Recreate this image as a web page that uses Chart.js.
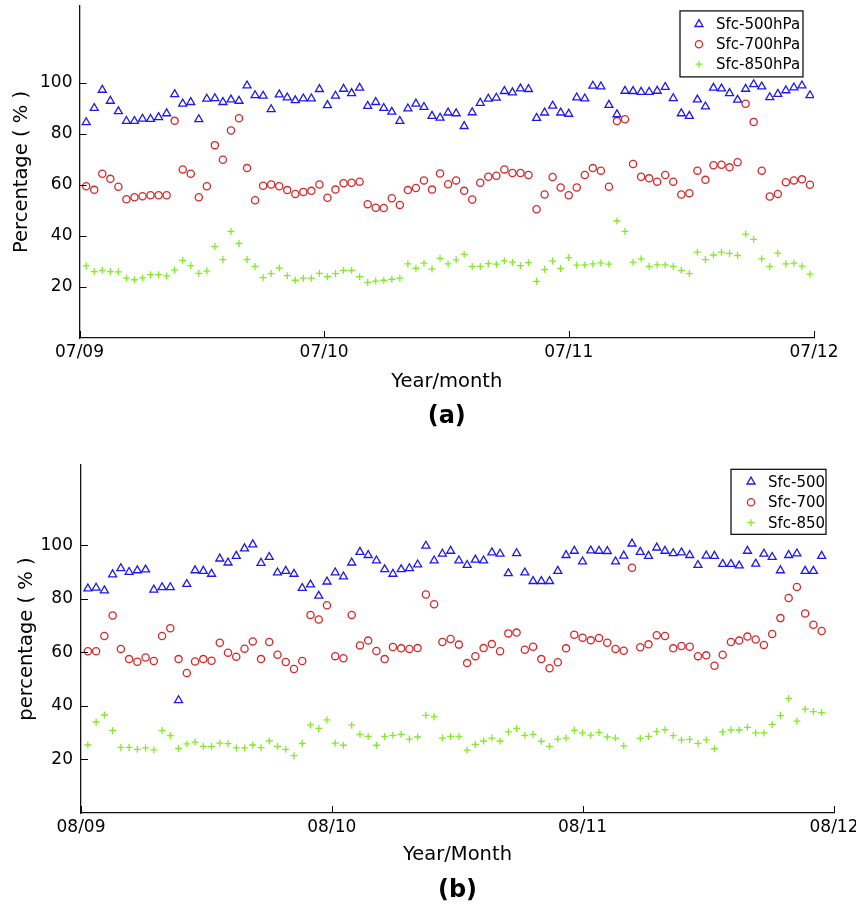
<!DOCTYPE html>
<html>
<head>
<meta charset="utf-8">
<script src="https://cdn.jsdelivr.net/npm/chart.js@4.4.0/dist/chart.umd.min.js"></script>
<style>
  body { margin: 0; background: #fff; }
  .panel { position: absolute; left: 0; width: 856px; }
  #panelA { top: 0; height: 440px; }
  #panelB { top: 440px; height: 473px; }
</style>
</head>
<body>
<div class="panel" id="panelA"><canvas id="chartA" width="856" height="440"></canvas></div>
<div class="panel" id="panelB"><canvas id="chartB" width="856" height="473"></canvas></div>
<script>
// x axis is in days since the first month shown
const xTickDays = [0, 365, 730, 1096];
const xTicksA = ['07/09', '07/10', '07/11', '07/12'];
const xTicksB = ['08/09', '08/10', '08/11', '08/12'];
const yTicks = [20, 40, 60, 80, 100];
// samples every 12 days
const sampleStartDay = 10;
const sampleStepDays = 12;

const namesA = ['Sfc-500hPa', 'Sfc-700hPa', 'Sfc-850hPa'];
const namesB = ['Sfc-500', 'Sfc-700', 'Sfc-850'];

// panel (a)
const sfc500A = [84.4, 90.0, 97.1, 92.8, 88.7, 84.9, 84.9, 85.8, 85.7, 86.4, 87.9, 95.4, 91.7, 92.3, 85.6, 93.6,
  93.8, 92.3, 93.3, 92.8, 98.8, 95.0, 94.8, 89.5, 95.3, 94.1, 93.0, 93.7, 93.7, 97.4, 91.1,
  94.8, 97.5, 95.8, 97.9, 90.8, 92.3, 90.0, 88.5, 84.9, 89.8, 91.7, 90.4, 86.9, 86.2, 88.2,
  87.9, 82.9, 88.3, 92.0, 93.6, 94.0, 96.6, 96.1, 97.6, 97.4, 86.1, 88.2, 90.9, 88.2, 87.7,
  94.1, 93.7, 98.7, 98.4, 91.2, 87.5, 96.7, 96.6, 96.3, 96.3, 96.7, 98.2, 93.8, 87.9, 86.9,
  93.3, 90.6, 97.9, 97.6, 95.8, 93.2, 97.5, 99.3, 98.4, 94.2, 95.5, 96.9, 98.0, 98.8, 95.0];
const sfc700A = [59.4, 58.0, 64.3, 62.3, 59.2, 54.3, 55.1, 55.5, 55.9, 55.9, 55.9, 85.0, 66.0, 64.3, 55.1, 59.4,
  75.5, 69.8, 81.2, 86.0, 66.5, 53.9, 59.6, 60.1, 59.4, 57.9, 56.4, 57.2, 57.6, 60.1, 54.9,
  58.1, 60.6, 60.8, 61.2, 52.4, 51.0, 50.9, 54.7, 52.1, 57.9, 58.7, 61.7, 58.1, 64.4, 60.2,
  61.7, 57.6, 54.2, 60.8, 63.1, 63.5, 66.0, 64.6, 64.6, 63.8, 50.4, 56.2, 63.0, 58.9, 55.9,
  58.9, 63.8, 66.5, 65.5, 59.2, 84.9, 85.6, 68.1, 63.1, 62.5, 61.2, 63.8, 61.2, 56.2, 56.7,
  65.5, 61.9, 67.6, 67.8, 66.8, 68.8, 91.7, 84.6, 65.5, 55.4, 56.4, 61.0, 61.7, 62.1, 60.0];
const sfc850A = [28.2, 26.0, 26.5, 26.0, 25.9, 23.4, 22.8, 23.5, 24.8, 24.8, 24.3, 26.6, 30.4, 28.3, 25.3, 26.2,
  35.8, 30.7, 41.7, 37.0, 30.7, 28.0, 23.6, 25.2, 27.4, 24.4, 22.6, 23.4, 23.4, 25.3, 24.0,
  25.2, 26.5, 26.5, 24.0, 21.8, 22.3, 22.6, 23.0, 23.4, 29.0, 27.3, 29.3, 27.0, 31.2, 29.0,
  30.6, 32.7, 28.0, 28.0, 29.1, 28.9, 30.2, 29.7, 28.3, 29.5, 22.2, 26.8, 30.1, 27.2, 31.5,
  28.5, 28.6, 29.0, 29.4, 28.9, 45.8, 41.7, 29.7, 31.0, 28.0, 28.6, 28.6, 28.0, 26.5, 25.2,
  33.6, 30.7, 32.5, 33.6, 33.1, 32.3, 40.7, 38.6, 31.0, 28.0, 33.2, 29.0, 29.3, 28.1, 25.0];

// panel (b)
const sfc500B = [83.8, 84.1, 83.1, 89.1, 91.4, 90.0, 90.6, 90.9, 83.4, 84.3, 84.3, 42.1, 85.5, 90.6, 90.4,
  89.3, 95.0, 93.5, 96.0, 98.8, 100.3, 93.4, 95.6, 89.8, 90.4, 89.3, 84.0, 85.3, 81.1, 86.4,
  89.8, 88.3, 93.5, 97.5, 96.3, 94.3, 91.0, 89.3, 91.0, 91.4, 92.8, 99.8, 94.3, 96.8, 97.9,
  94.3, 92.6, 94.6, 94.3, 97.3, 96.8, 89.5, 97.0, 89.8, 86.6, 86.6, 86.6, 90.4, 96.3,
  97.9, 93.9, 98.0, 97.9, 97.8, 93.9, 96.1, 100.6, 97.5, 96.0, 99.1, 97.9, 97.0, 97.3, 96.3,
  92.6, 96.1, 96.0, 93.0, 93.0, 92.4, 97.9, 93.1, 96.8, 95.6, 90.6, 96.3, 96.9, 90.4, 90.4, 96.0];
const sfc700B = [60.4, 60.4, 66.1, 73.8, 61.3, 57.5, 56.5, 58.1, 56.8, 66.1, 69.0, 57.5, 52.3, 56.6, 57.5,
  56.9, 63.6, 59.9, 58.4, 61.4, 64.1, 57.5, 63.9, 59.1, 56.4, 53.8, 56.8, 74.0, 72.3, 77.6,
  58.6, 57.8, 74.0, 62.6, 64.4, 60.5, 57.5, 62.0, 61.5, 61.3, 61.6, 81.6, 78.0, 63.9, 65.0,
  62.9, 56.0, 58.6, 61.6, 63.1, 60.4, 67.1, 67.4, 61.0, 62.1, 57.5, 54.1, 56.3, 61.5,
  66.6, 65.5, 64.5, 65.4, 63.6, 61.3, 60.6, 91.6, 61.9, 63.0, 66.4, 66.1, 61.5, 62.4, 62.1,
  58.6, 58.9, 55.0, 59.1, 63.9, 64.4, 65.9, 64.8, 62.8, 66.9, 72.8, 80.3, 84.4, 74.5, 70.3, 68.0];
const sfc850B = [25.4, 34.0, 36.6, 30.8, 24.5, 24.5, 23.8, 24.3, 23.6, 30.8, 28.9, 24.1, 25.8, 26.5, 24.9,
  24.9, 26.1, 25.9, 24.3, 24.3, 25.4, 24.4, 26.9, 24.9, 23.8, 21.4, 26.0, 32.9, 31.6, 34.8,
  26.1, 25.3, 32.8, 29.4, 28.6, 25.3, 28.6, 29.0, 29.4, 27.6, 28.4, 36.5, 35.9, 28.0, 28.6,
  28.6, 23.5, 25.6, 26.9, 28.0, 26.9, 30.3, 31.6, 29.0, 29.4, 26.8, 24.9, 27.6, 28.0,
  30.9, 29.9, 29.1, 30.1, 28.4, 28.0, 25.1, null, 27.9, 28.6, 30.4, 31.1, 28.9, 27.3, 27.5,
  26.0, 27.3, 24.0, 30.3, 31.0, 31.0, 32.0, 29.9, 29.9, 33.1, 36.4, 42.8, 34.3, 38.8, 37.9, 37.5];

const markerStyles = [
  { pointStyle: 'triangle', radius: 4.6, color: 'rgb(30,25,235)' },
  { pointStyle: 'circle', radius: 3.6, color: 'rgb(215,40,40)' },
  { pointStyle: 'cross', radius: 3.5, color: 'rgb(130,235,40)' }
];

const FONT = '"DejaVu Sans", sans-serif';

// ticks inward, axis titles, panel label and boxed legend
const panelDecor = {
  id: 'panelDecor',
  afterDraw(chart, args, o) {
    const ctx = chart.ctx;
    const area = chart.chartArea;
    const xs = chart.scales.x, ys = chart.scales.y;
    ctx.save();
    ctx.strokeStyle = '#000';
    ctx.lineWidth = 1;
    ctx.beginPath();
    yTicks.forEach(v => {
      const py = Math.round(ys.getPixelForValue(v)) + 0.5;
      ctx.moveTo(area.left, py);
      ctx.lineTo(area.left + 7, py);
    });
    xTickDays.forEach(v => {
      const px = Math.round(xs.getPixelForValue(v)) + 0.5;
      ctx.moveTo(px, area.bottom);
      ctx.lineTo(px, area.bottom - 7);
    });
    ctx.stroke();

    ctx.fillStyle = '#000';
    ctx.textAlign = 'center';
    ctx.textBaseline = 'alphabetic';
    ctx.font = '19.5px ' + FONT;
    const cx = (area.left + area.right) / 2;
    ctx.fillText(o.xTitle, cx, area.bottom + o.xTitleOffset);
    ctx.save();
    ctx.translate(o.yTitleX, (area.top + area.bottom) / 2);
    ctx.rotate(-Math.PI / 2);
    ctx.fillText(o.yTitle, 0, 0);
    ctx.restore();
    ctx.font = 'bold 24px ' + FONT;
    ctx.fillText(o.panelLabel, cx, area.bottom + o.labelOffset);

    // legend box
    const L = o.legend;
    const bx = area.right - L.right - L.width;
    const by = area.top + L.top;
    ctx.fillStyle = '#fff';
    ctx.fillRect(bx, by, L.width, L.height);
    ctx.lineWidth = 1.2;
    ctx.strokeStyle = '#000';
    ctx.strokeRect(bx, by, L.width, L.height);
    ctx.font = '15px ' + FONT;
    ctx.textAlign = 'left';
    ctx.textBaseline = 'middle';
    chart.data.datasets.forEach((ds, i) => {
      const ry = by + L.firstRow + i * L.rowGap;
      ctx.strokeStyle = ds.borderColor;
      ctx.fillStyle = 'rgba(0,0,0,0)';
      ctx.lineWidth = ds.borderWidth;
      Chart.helpers.drawPoint(ctx, {
        pointStyle: ds.pointStyle, radius: ds.pointRadius, borderWidth: ds.borderWidth, rotation: 0
      }, bx + L.markerX, ry);
      ctx.fillStyle = '#000';
      ctx.fillText(ds.label, bx + L.textX, ry + 1);
    });
    ctx.restore();
  }
};

function buildChart(canvasId, names, series, xLabels, o) {
  const datasets = series.map((vals, i) => ({
    label: names[i],
    data: vals.map((v, k) => ({ x: sampleStartDay + sampleStepDays * k, y: v })),
    pointStyle: markerStyles[i].pointStyle,
    pointRadius: markerStyles[i].radius,
    borderColor: markerStyles[i].color,
    backgroundColor: 'rgba(0,0,0,0)',
    borderWidth: 1.3,
    showLine: false
  }));
  const tickFont = { family: FONT, size: 17 };
  return new Chart(document.getElementById(canvasId), {
    type: 'scatter',
    data: { datasets: datasets },
    options: {
      responsive: false,
      animation: false,
      events: [],
      layout: { padding: { left: 0, top: o.top, right: o.right, bottom: 0 } },
      plugins: {
        legend: { display: false },
        tooltip: { enabled: false },
        panelDecor: o.decor
      },
      scales: {
        x: {
          type: 'linear', min: 0, max: 1096,
          grid: { display: false, drawTicks: false },
          border: { display: true, color: '#111', width: 1.3 },
          afterBuildTicks: s => { s.ticks = xTickDays.map(v => ({ value: v })); },
          afterFit: s => { s.height = o.xAxisHeight; s.paddingLeft = 0; s.paddingRight = 0; },
          ticks: {
            autoSkip: false, maxRotation: 0, color: '#000', font: tickFont, padding: 4,
            callback: (v, idx) => xLabels[idx]
          }
        },
        y: {
          min: 0, max: 130,
          grid: { display: false, drawTicks: false },
          border: { display: true, color: '#111', width: 1.3 },
          afterBuildTicks: s => { s.ticks = yTicks.map(v => ({ value: v })); },
          afterFit: s => { s.width = o.yAxisWidth; s.paddingTop = 0; s.paddingBottom = 0; },
          ticks: { color: '#000', font: tickFont, padding: o.yTickPad }
        }
      }
    },
    plugins: [panelDecor]
  });
}

buildChart('chartA', namesA, [sfc500A, sfc700A, sfc850A], xTicksA, {
  top: 5, right: 42, xAxisHeight: 102, yAxisWidth: 79.5, yTickPad: 7,
  decor: {
    xTitle: 'Year/month', yTitle: 'Percentage ( % )', panelLabel: '(a)',
    xTitleOffset: 49, labelOffset: 85, yTitleX: 27,
    legend: { right: 11, top: 5, width: 123, height: 66, markerX: 19, textX: 36, firstRow: 13.3, rowGap: 20 }
  }
});

buildChart('chartB', namesB, [sfc500B, sfc700B, sfc850B], xTicksB, {
  top: 25, right: 22, xAxisHeight: 100, yAxisWidth: 81, yTickPad: 8,
  decor: {
    xTitle: 'Year/Month', yTitle: 'percentage ( % )', panelLabel: '(b)',
    xTitleOffset: 47, labelOffset: 84, yTitleX: 32,
    legend: { right: 8, top: 4.3, width: 95, height: 65, markerX: 20, textX: 37, firstRow: 12.4, rowGap: 20.5 }
  }
});
</script>
</body>
</html>
